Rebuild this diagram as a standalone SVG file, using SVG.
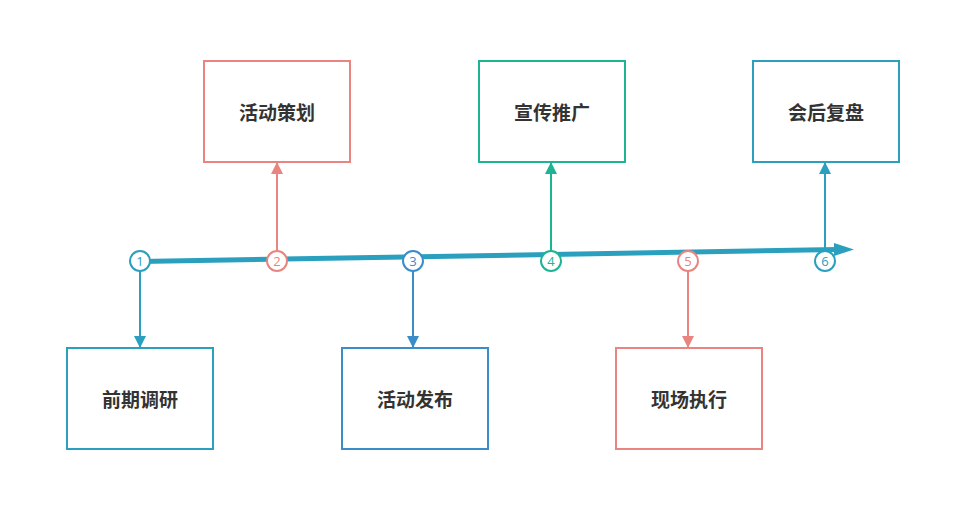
<svg xmlns="http://www.w3.org/2000/svg" width="966" height="524" viewBox="0 0 966 524">
<style>
.box{fill:#fff;stroke-width:2}
.lbl{font-family:"Noto Sans CJK SC","Liberation Sans",sans-serif;font-size:19px;font-weight:bold;fill:#333;text-anchor:middle;dominant-baseline:central}
.num{font-family:"Open Sans","Liberation Sans",sans-serif;font-size:13px;text-anchor:middle;dominant-baseline:central}
.c{fill:#fff;stroke-width:2}
.con{fill:none;stroke-width:2}
</style>
<defs>
<marker id="aT" viewBox="0 0 10 10" refX="10" refY="5" markerWidth="6" markerHeight="6" orient="auto" markerUnits="strokeWidth"><path d="M0,0L10,5L0,10z" fill="#2AA0BE"/></marker>
<marker id="aB" viewBox="0 0 10 10" refX="10" refY="5" markerWidth="6" markerHeight="6" orient="auto" markerUnits="strokeWidth"><path d="M0,0L10,5L0,10z" fill="#3A8DC8"/></marker>
<marker id="aR" viewBox="0 0 10 10" refX="10" refY="5" markerWidth="6" markerHeight="6" orient="auto" markerUnits="strokeWidth"><path d="M0,0L10,5L0,10z" fill="#E98580"/></marker>
<marker id="aG" viewBox="0 0 10 10" refX="10" refY="5" markerWidth="6" markerHeight="6" orient="auto" markerUnits="strokeWidth"><path d="M0,0L10,5L0,10z" fill="#1DB494"/></marker>
</defs>
<rect width="966" height="524" fill="#fff"/>
<g id="connectors">
<path d="M140,261.5 L838,249.5" stroke="#2AA0BE" stroke-width="5" fill="none"/>
<path d="M834,243 L854,249.5 L834,256z" fill="#2AA0BE"/>
<path class="con" d="M140,271 L140,348" stroke="#2AA0BE" marker-end="url(#aT)"/>
<path class="con" d="M277,251 L277,162" stroke="#E98580" marker-end="url(#aR)"/>
<path class="con" d="M413,271 L413,348" stroke="#3A8DC8" marker-end="url(#aB)"/>
<path class="con" d="M551,251 L551,162" stroke="#1DB494" marker-end="url(#aG)"/>
<path class="con" d="M688,271 L688,348" stroke="#E98580" marker-end="url(#aR)"/>
<path class="con" d="M825,251 L825,162" stroke="#2AA0BE" marker-end="url(#aT)"/>
</g>
<g id="m1"><circle class="c" cx="140" cy="261" r="10" stroke="#2AA0BE"/><text class="num" x="140" y="261" fill="#2AA0BE">1</text></g>
<g id="m2"><circle class="c" cx="277" cy="261" r="10" stroke="#E98580"/><text class="num" x="277" y="261" fill="#E98580">2</text></g>
<g id="m3"><circle class="c" cx="413" cy="261" r="10" stroke="#3A8DC8"/><text class="num" x="413" y="261" fill="#3A8DC8">3</text></g>
<g id="m4"><circle class="c" cx="551" cy="261" r="10" stroke="#1DB494"/><text class="num" x="551" y="261" fill="#1DB494">4</text></g>
<g id="m5"><circle class="c" cx="688" cy="261" r="10" stroke="#E98580"/><text class="num" x="688" y="261" fill="#E98580">5</text></g>
<g id="m6"><circle class="c" cx="825" cy="261" r="10" stroke="#2AA0BE"/><text class="num" x="825" y="261" fill="#2AA0BE">6</text></g>
<g id="n1"><rect class="box" x="67" y="348" width="146" height="101" stroke="#2AA0BE"/><text class="lbl" x="140" y="398.5">前期调研</text></g>
<g id="n2"><rect class="box" x="204" y="61" width="146" height="101" stroke="#E98580"/><text class="lbl" x="277" y="111.5">活动策划</text></g>
<g id="n3"><rect class="box" x="342" y="348" width="146" height="101" stroke="#3A8DC8"/><text class="lbl" x="415" y="398.5">活动发布</text></g>
<g id="n4"><rect class="box" x="479" y="61" width="146" height="101" stroke="#1DB494"/><text class="lbl" x="552" y="111.5">宣传推广</text></g>
<g id="n5"><rect class="box" x="616" y="348" width="146" height="101" stroke="#E98580"/><text class="lbl" x="689" y="398.5">现场执行</text></g>
<g id="n6"><rect class="box" x="753" y="61" width="146" height="101" stroke="#2AA0BE"/><text class="lbl" x="826" y="111.5">会后复盘</text></g>
</svg>
